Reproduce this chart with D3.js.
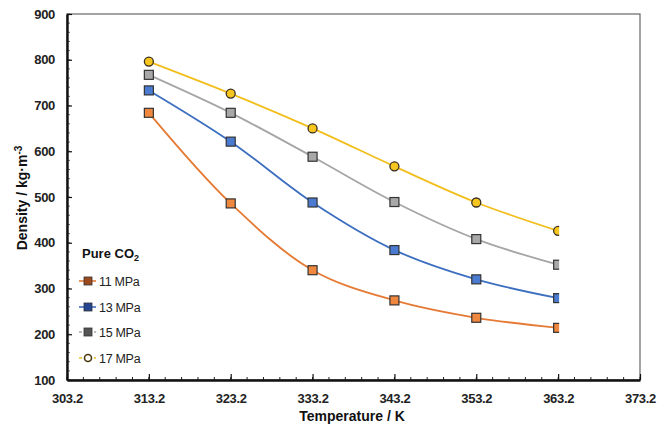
<!DOCTYPE html>
<html><head><meta charset="utf-8">
<script src="https://cdn.jsdelivr.net/npm/d3@7"></script>
<style>
html,body{margin:0;padding:0;background:#fff;}
svg{display:block;font-family:"Liberation Sans",Arial,sans-serif;}
</style></head>
<body>
<svg id="chart" width="668" height="426"></svg>
<script>
const temperatures = [313.2, 323.2, 333.2, 343.2, 353.2, 363.2];
const xTicks = [303.2, 313.2, 323.2, 333.2, 343.2, 353.2, 363.2, 373.2];
const yTicks = [100, 200, 300, 400, 500, 600, 700, 800, 900];
const seriesNames = ["11 MPa", "13 MPa", "15 MPa", "17 MPa"];
const density11 = [684, 486, 340, 274, 236, 214];
const density13 = [733, 621, 488, 384, 320, 279];
const density15 = [767, 684, 588, 489, 408, 352];
const density17 = [796, 726, 650, 567, 488, 426];
const seriesValues = [density11, density13, density15, density17];
const lineColors = ["#E57A35", "#3D6FC0", "#A6A6A6", "#F2BE1C"];
const markerFills = ["#F0873E", "#4A7BD0", "#A8A8A8", "#F7C61E"];
const legendMarkerFills = ["#9A4A1E", "#24478F", "#555555", "#ffffff"];
const markerShapes = ["square", "square", "square", "circle"];

const svg = d3.select("#chart");
const L = 67, R = 640, T = 14, B = 380;
const x = d3.scaleLinear().domain([303.2, 373.2]).range([L, R]);
const y = d3.scaleLinear().domain([100, 900]).range([B, T]);

svg.append("rect").attr("x", L).attr("y", T).attr("width", R - L).attr("height", B - T)
  .attr("fill", "#fff").attr("stroke", "#666").attr("stroke-width", 1.2);

const xMinor = d3.range(0, 36).map(i => 303.2 + i * 2);
const yMinor = d3.range(0, 41).map(i => 100 + i * 20);
svg.append("g").selectAll("line").data(xMinor).join("line")
  .attr("x1", d => x(d)).attr("x2", d => x(d)).attr("y1", B).attr("y2", B - 3)
  .attr("stroke", "#222").attr("stroke-width", 1);
svg.append("g").selectAll("line").data(yMinor).join("line")
  .attr("y1", d => y(d)).attr("y2", d => y(d)).attr("x1", L).attr("x2", L + 3)
  .attr("stroke", "#444").attr("stroke-width", 0.8);

const xAxis = d3.axisBottom(x).tickValues(xTicks).tickFormat(d3.format(".1f")).tickSizeInner(-6).tickSizeOuter(0).tickPadding(14);
const yAxis = d3.axisLeft(y).tickValues(yTicks).tickFormat(d3.format("d")).tickSizeInner(-5).tickSizeOuter(0).tickPadding(12);
const gx = svg.append("g").attr("transform", `translate(0,${B})`).call(xAxis);
const gy = svg.append("g").attr("transform", `translate(${L},0)`).call(yAxis);
[gx, gy].forEach(g => {
  g.select(".domain").attr("stroke", "#111").attr("stroke-width", 2.4);
  g.selectAll(".tick line").attr("stroke", "#111").attr("stroke-width", 1.2);
  g.selectAll(".tick text").attr("fill", "#222").attr("font-size", 13).attr("font-weight", "bold")
    .attr("font-family", "Liberation Sans, Arial, sans-serif").attr("letter-spacing", "-0.3px");
});

svg.append("clipPath").attr("id", "dataclip").append("rect")
  .attr("x", L).attr("y", T).attr("width", x(363.2) - L + 1).attr("height", B - T);

const line = d3.line().x((d, i) => x(temperatures[i])).y(d => y(d)).curve(d3.curveCatmullRom.alpha(0.5));
const plot = svg.append("g").attr("clip-path", "url(#dataclip)");

seriesValues.forEach((vals, s) => {
  plot.append("path").datum(vals).attr("d", line).attr("fill", "none")
    .attr("stroke", lineColors[s]).attr("stroke-width", 1.8);
});
seriesValues.forEach((vals, s) => {
  const g = plot.append("g");
  if (markerShapes[s] === "circle") {
    g.selectAll("circle").data(vals).join("circle")
      .attr("cx", (d, i) => x(temperatures[i])).attr("cy", d => y(d)).attr("r", 4.5)
      .attr("fill", markerFills[s]).attr("stroke", "#3a3020").attr("stroke-width", 1.3);
  } else {
    g.selectAll("rect").data(vals).join("rect")
      .attr("x", (d, i) => x(temperatures[i]) - 4.5).attr("y", d => y(d) - 4.5)
      .attr("width", 9).attr("height", 9)
      .attr("fill", markerFills[s]).attr("stroke", "#333").attr("stroke-width", 1.2);
  }
});

const lg = svg.append("g");
lg.append("text").attr("x", 82).attr("y", 258).attr("font-size", 13).attr("font-weight", "bold").attr("fill", "#111")
  .text("Pure CO").append("tspan").attr("font-size", 9).attr("dy", 3).text("2");
const legY = [281, 307, 332, 358];
seriesNames.forEach((name, s) => {
  const yy = legY[s];
  lg.append("line").attr("x1", 79).attr("x2", 96).attr("y1", yy).attr("y2", yy)
    .attr("stroke", lineColors[s]).attr("stroke-width", 1.6).attr("stroke-dasharray", s >= 2 ? "3,2" : null);
  if (markerShapes[s] === "circle") {
    lg.append("circle").attr("cx", 88).attr("cy", yy).attr("r", 3.5)
      .attr("fill", "#fff").attr("stroke", "#4a3a10").attr("stroke-width", 1.6);
  } else {
    lg.append("rect").attr("x", 84).attr("y", yy - 4).attr("width", 8).attr("height", 8)
      .attr("fill", legendMarkerFills[s]).attr("stroke", "#333").attr("stroke-width", 0.8);
  }
  lg.append("text").attr("x", 99).attr("y", yy + 4.5).attr("font-size", 12.5).attr("fill", "#222")
    .attr("letter-spacing", "-0.3px").text(name);
});

svg.append("text").attr("x", 352).attr("y", 421).attr("text-anchor", "middle")
  .attr("font-size", 14).attr("font-weight", "bold").attr("fill", "#111").text("Temperature / K");
const yt = svg.append("text").attr("transform", `translate(27,198) rotate(-90)`).attr("text-anchor", "middle")
  .attr("font-size", 14).attr("font-weight", "bold").attr("fill", "#111");
yt.append("tspan").text("Density / kg·m");
yt.append("tspan").attr("font-size", 10).attr("dy", -5).text("-3");
</script>
</body></html>
